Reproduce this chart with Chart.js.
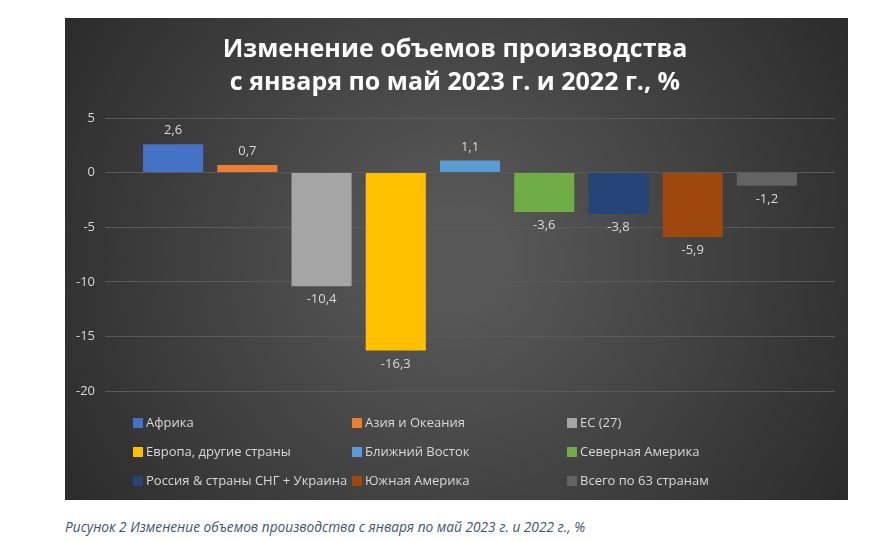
<!DOCTYPE html>
<html>
<head>
<meta charset="utf-8">
<script src="https://cdn.jsdelivr.net/npm/chart.js@4"></script>
<style>
  body { margin: 0; background: #fff; width: 878px; height: 542px; position: relative; overflow: hidden; }
  #wrap { position: absolute; left: 65px; top: 18px; width: 783px; height: 482px; }
  #caption { position: absolute; left: 65px; top: 517px; font: italic 13.7px "Open Sans", sans-serif; color: #44546a; }
</style>
</head>
<body>
<div id="wrap"><canvas id="prodChart"></canvas></div>
<div id="caption">Рисунок 2 Изменение объемов производства с января по май 2023 г. и 2022 г., %</div>
<script>
// Регионы и значения
const regions = ['Африка', 'Азия и Океания', 'ЕС (27)', 'Европа, другие страны', 'Ближний Восток',
                 'Северная Америка', 'Россия & страны СНГ + Украина', 'Южная Америка', 'Всего по 63 странам'];
const changes = [2.6, 0.7, -10.4, -16.3, 1.1, -3.6, -3.8, -5.9, -1.2];
const colors = ['#4472c4', '#ed7d31', '#a5a5a5', '#ffc000', '#5b9bd5', '#70ad47', '#264478', '#9e480e', '#636363'];
const yTicks = [5, 0, -5, -10, -15, -20];

const fmt = v => String(v).replace('.', ',');

// фон панели, заголовок, подписи и легенда
const decorPlugin = {
    id: 'decor',
    beforeDraw(chart) {
        const { ctx, width, height } = chart;
        const g = ctx.createRadialGradient(width / 2, height / 2, 50, width / 2, height / 2, width * 0.65);
        g.addColorStop(0, '#575757');
        g.addColorStop(1, '#262626');
        ctx.save();
        ctx.fillStyle = g;
        ctx.fillRect(0, 0, width, height);
        ctx.fillStyle = '#fff';
        ctx.font = 'bold 25px "Open Sans", sans-serif';
        ctx.textAlign = 'center';
        ctx.textBaseline = 'middle';
        ctx.fillText('Изменение объемов производства', 390, 32);
        ctx.fillText('с января по май 2023 г. и 2022 г., %', 390, 65);
        ctx.restore();
    },
    afterDatasetsDraw(chart) {
        const { ctx } = chart;
        ctx.save();
        ctx.fillStyle = '#d9d9d9';
        ctx.font = '13px "Open Sans", sans-serif';
        ctx.textAlign = 'center';
        chart.data.datasets.forEach((ds, i) => {
            const bar = chart.getDatasetMeta(i).data[0];
            const v = ds.data[0];
            if (v >= 0) {
                ctx.textBaseline = 'bottom';
                ctx.fillText(fmt(v), bar.x, bar.y - 7);
            } else {
                ctx.textBaseline = 'top';
                ctx.fillText(fmt(v), bar.x, bar.y + 7);
            }
        });
        // легенда в 3 колонки
        const colX = [68, 287, 502];
        const rowY = [405, 434, 463];
        ctx.textAlign = 'left';
        ctx.textBaseline = 'middle';
        chart.data.datasets.forEach((ds, i) => {
            const x = colX[i % 3], y = rowY[Math.floor(i / 3)];
            ctx.fillStyle = ds.backgroundColor;
            ctx.fillRect(x, y - 5, 10, 10);
            ctx.fillStyle = '#d9d9d9';
            ctx.fillText(ds.label, x + 13, y);
        });
        ctx.restore();
    }
};

new Chart(document.getElementById('prodChart'), {
    type: 'bar',
    data: {
        labels: [''],
        datasets: regions.map((r, i) => ({
            label: r,
            data: [changes[i]],
            backgroundColor: colors[i],
            borderWidth: 0
        }))
    },
    options: {
        responsive: true,
        maintainAspectRatio: false,
        animation: false,
        layout: { padding: { top: 100, bottom: 109, left: 0, right: 13 } },
        datasets: { bar: { categoryPercentage: 0.915, barPercentage: 0.81 } },
        plugins: { legend: { display: false }, title: { display: false }, tooltip: { enabled: false } },
        scales: {
            x: { display: false },
            y: {
                min: -20, max: 5,
                afterFit: s => { s.width = 40; },
                afterBuildTicks: s => { s.ticks = yTicks.map(v => ({ value: v })); },
                ticks: { color: '#d9d9d9', font: { size: 13, family: '"Open Sans", sans-serif' }, callback: v => fmt(v), padding: 10 },
                grid: { color: '#5a5a5a', drawTicks: false },
                border: { display: false }
            }
        }
    },
    plugins: [decorPlugin]
});
</script>
</body>
</html>
